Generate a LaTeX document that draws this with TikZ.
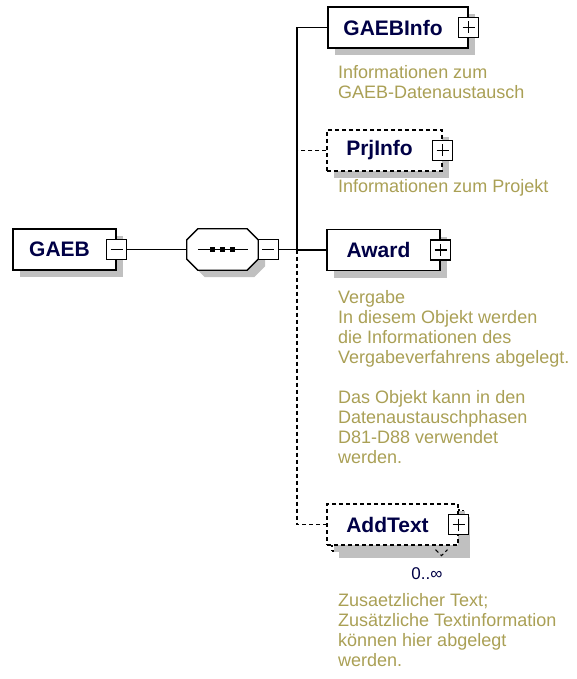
\documentclass[tikz,border=0pt]{standalone}
\usepackage{fontspec}
\setmainfont{Liberation Sans}
\usepackage{tikz}
\usetikzlibrary{positioning,calc,shadows}
\definecolor{annotcol}{RGB}{170,160,85}
\definecolor{labelnavy}{RGB}{0,0,70}
\definecolor{shadowgray}{RGB}{192,192,192}

\tikzset{
  dropshade/.style={general shadow={fill=shadowgray, shadow xshift=7pt, shadow yshift=-7pt}},
  elem/.style={draw, line width=1.3pt, fill=white, minimum height=41pt, inner sep=0pt,
    font=\fontsize{21}{24}\selectfont\bfseries, text=labelnavy, dropshade},
  opt/.style={dash pattern=on 4pt off 3pt},
  conn/.style={line width=1.3pt},
  toggle/.style={draw, line width=1.3pt, fill=white, minimum size=20pt, inner sep=0pt},
  minusbox/.style={toggle, path picture={
    \draw[line width=1.3pt] ($(path picture bounding box.west)+(4pt,0pt)$) -- ($(path picture bounding box.east)+(-4pt,0pt)$);}},
  plusbox/.style={toggle, path picture={
    \draw[line width=1.3pt] ($(path picture bounding box.west)+(4pt,0pt)$) -- ($(path picture bounding box.east)+(-4pt,0pt)$);
    \draw[line width=1.3pt] ($(path picture bounding box.north)+(0pt,-4pt)$) -- ($(path picture bounding box.south)+(0pt,4pt)$);}},
  annot/.style={anchor=north west, align=left, inner sep=0pt, text=annotcol,
    font=\fontsize{18}{20}\selectfont},
}

\begin{document}
\begin{tikzpicture}[x=1pt, y=-1pt]

  \fill[white] (0,0) rectangle (577,679);
  \useasboundingbox (0,0) rectangle (577,679);

  % root element
  \node[elem, minimum width=103pt] (gaeb) at (64.5,249.5) {GAEB\kern10pt};
  \node[minusbox] (gaebtog) at (gaeb.east) {};

  % sequence compositor
  \node[minimum width=71pt, minimum height=41pt, inner sep=0pt] (seq) at (222.5,249.5) {};
  \draw[conn, fill=white, dropshade] ($(seq.north west)+(11,0)$) -- ($(seq.north east)+(-11,0)$)
    -- ($(seq.north east)+(0,11)$) -- ($(seq.south east)+(0,-11)$) -- ($(seq.south east)+(-11,0)$)
    -- ($(seq.south west)+(11,0)$) -- ($(seq.south west)+(0,-11)$) -- ($(seq.north west)+(0,11)$) -- cycle;
  \draw[conn] ($(seq.west)+(11,0)$) -- ($(seq.east)+(-10,0)$);
  \foreach \k in {-10,0,10}
    \fill ($(seq.center)+(\k,0)$) +(-2.5,-2.5) rectangle +(2.5,2.5);
  \node[minusbox] (seqtog) at ($(seq.east)+(10,0)$) {};

  \coordinate (bus) at (297,249.5);

  % child elements
  \node[elem, minimum width=140pt] (info) at (398,27.5) {GAEBInfo\kern10pt};
  \node[plusbox] (infotog) at (info.east) {};

  \node[elem, opt, minimum width=115pt] (prj) at (384.5,150.5) {PrjInfo\kern10pt};
  \node[plusbox] (prjtog) at (prj.east) {};

  \node[elem, minimum width=113pt] (award) at (383.5,250) {Award\kern10pt};
  \node[plusbox] (awardtog) at (award.east) {};

  \node[elem, opt, minimum width=131pt] (addback) at (397.5,530.5) {};
  \node[elem, opt, minimum width=131pt, general shadow={}] (add) at (392.5,524.5) {AddText\kern10pt};
  \node[plusbox] (addtog) at (add.east) {};
  \draw[line width=1pt, opt] ($(addback.south)+(38,-2)$) -- ++(6,6) -- ++(6,-6);
  \node[font=\fontsize{17}{20}\selectfont, text=labelnavy, inner sep=0pt] (addmult) at (427,574) {0..∞};

  % connectors
  \draw[conn] (gaebtog.east) -- (seq.west);
  \draw[conn] (seqtog.east) -- (bus);
  \draw[conn] (info.west) -| (bus);
  \draw[conn, opt] (prj.west) -- (bus |- prj.west);
  \draw[conn] (award.west) -- (bus |- award.west);
  \draw[conn, opt] (bus) -- (bus |- add.west) -- (add.west);

  % annotations
  \node[annot] (infodesc) at (338,65) {Informationen zum\\GAEB-Datenaustausch};
  \node[annot] (prjdesc) at (338,179) {Informationen zum Projekt};
  \node[annot] (awarddesc) at (338,290) {Vergabe\\In diesem Objekt werden\\die Informationen des\\Vergabeverfahrens abgelegt.\\[20pt]Das Objekt kann in den\\Datenaustauschphasen\\D81-D88 verwendet\\werden.};
  \node[annot] (adddesc) at (338,593) {Zusaetzlicher Text;\\Zusätzliche Textinformation\\können hier abgelegt\\werden.};

\end{tikzpicture}
\end{document}
